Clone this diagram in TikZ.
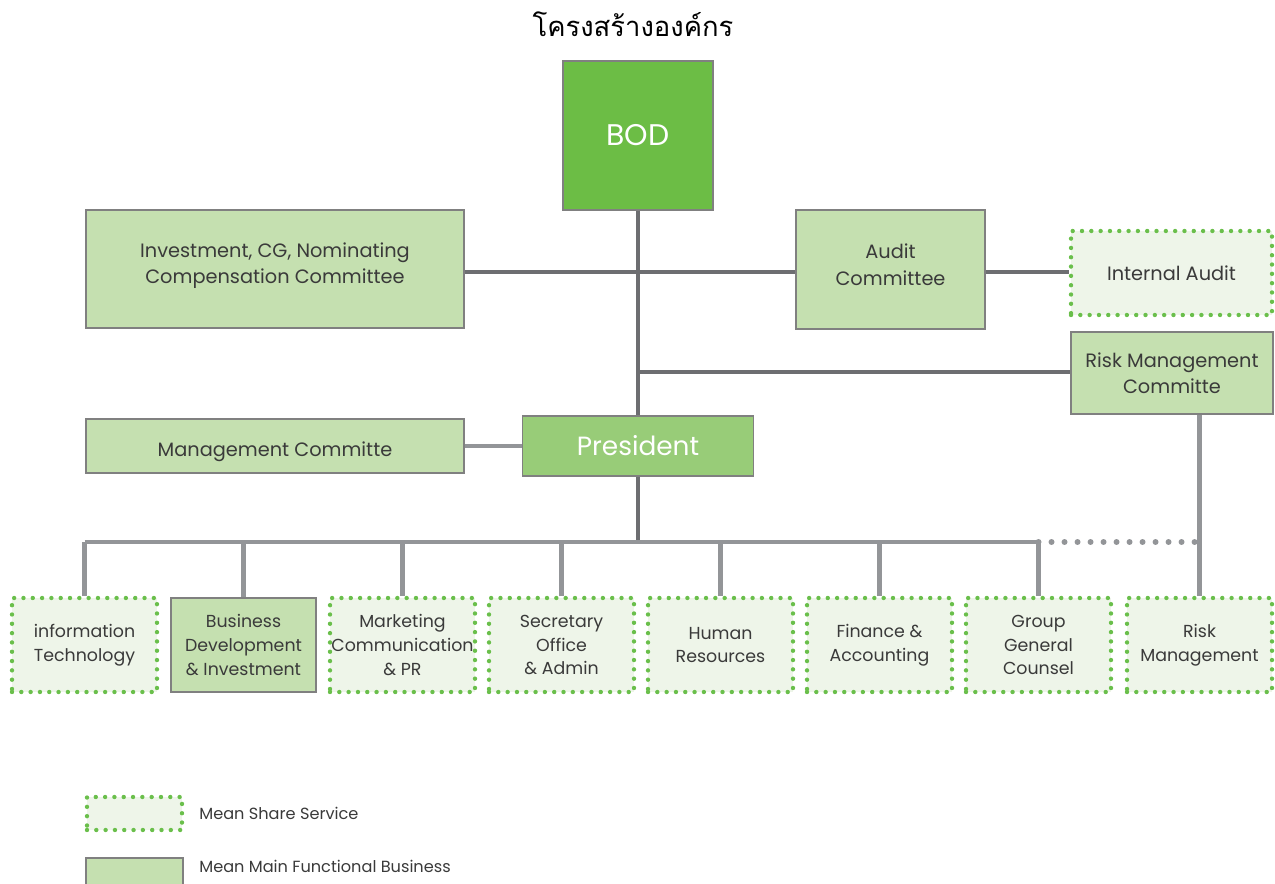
\documentclass[tikz,border=0pt]{standalone}
\usepackage{fontspec}
\setmainfont{Poppins}
\newfontfamily\thaifont[Script=Thai]{Loma}
\usepackage{tikz}
\usetikzlibrary{positioning, calc}
\usepackage{xcolor}

\definecolor{boardgreen}{HTML}{6CBD45}
\definecolor{presgreen}{HTML}{98CC78}
\definecolor{boxgreen}{HTML}{C5E0B0}
\definecolor{sharefill}{HTML}{EEF5E9}
\definecolor{dotgreen}{HTML}{6ABF4B}
\definecolor{darkline}{HTML}{6D6E71}
\definecolor{lightline}{HTML}{939598}
\definecolor{textgray}{HTML}{3A3A3A}

\tikzset{
  mainbox/.style={draw=gray, line width=0.8pt, fill=boxgreen, text=textgray, align=center, inner sep=0pt},
  sharebox/.style={draw=dotgreen, fill=sharefill, line width=2.5pt, line cap=round, dash pattern=on 0pt off 5.3pt, text=textgray, align=center, inner sep=0pt},
  unitbox/.style={minimum width=2.9cm, minimum height=1.88cm, font=\fontsize{9.9}{13.6}\selectfont},
  trunk/.style={draw=darkline, line width=2.8pt},
  bus/.style={draw=lightline, line width=2.6pt},
  legendtext/.style={anchor=west, inner sep=0pt, text=textgray, font=\fontsize{9.2}{11}\selectfont}
}

\begin{document}
\begin{tikzpicture}
        \useasboundingbox (0,0) rectangle (25.5,-17.68);

        % title
        \node[text=black, font=\fontsize{15.6}{18}\selectfont\thaifont] (title) at (12.66,-0.48) {โครงสร้างองค์กร};

        % board and committees
        \node[mainbox, fill=boardgreen, text=white, minimum width=3cm, minimum height=2.98cm, font=\fontsize{17}{20}\selectfont] (bod) at (12.76,-2.71) {BOD};
        \node[mainbox, minimum width=7.56cm, minimum height=2.36cm, text depth=0.24cm, font=\fontsize{11}{14.7}\selectfont] (inv) at (5.50,-5.38) {Investment, CG, Nominating\\Compensation Committee};
        \node[mainbox, minimum width=3.78cm, minimum height=2.38cm, text depth=0.2cm, font=\fontsize{11}{15}\selectfont] (audit) at (17.81,-5.39) {Audit\\Committee};
        \node[sharebox, minimum width=4.02cm, minimum height=1.68cm, font=\fontsize{11}{15}\selectfont] (ia) at (23.43,-5.46) {Internal Audit};
        \node[mainbox, minimum width=4.04cm, minimum height=1.64cm, font=\fontsize{11}{15}\selectfont] (riskc) at (23.44,-7.46) {Risk Management\\Committe};
        \node[mainbox, minimum width=7.56cm, minimum height=1.08cm, text height=0.5cm, text depth=0.08cm, font=\fontsize{11}{15}\selectfont] (mgmt) at (5.50,-8.92) {Management Committe};
        \node[mainbox, fill=presgreen, text=white, minimum width=4.62cm, minimum height=1.2cm, font=\fontsize{15}{18}\selectfont] (pres) at (12.76,-8.92) {President};

        % units
        \node[sharebox, unitbox] (it) at (1.69,-12.9) {information\\Technology};
        \node[mainbox, unitbox] (bd) at (4.87,-12.9) {Business\\Development\\\& Investment};
        \node[sharebox, unitbox] (mkt) at (8.05,-12.9) {Marketing\\Communication\\\& PR};
        \node[sharebox, unitbox] (sec) at (11.23,-12.9) {Secretary\\Office\\\& Admin};
        \node[sharebox, unitbox] (hr) at (14.41,-12.9) {Human\\Resources};
        \node[sharebox, unitbox] (fin) at (17.59,-12.9) {Finance \&\\Accounting};
        \node[sharebox, unitbox] (grp) at (20.77,-12.9) {Group\\General\\Counsel};
        \node[sharebox, unitbox] (rm) at (23.99,-12.9) {Risk\\Management};

        \coordinate (bus) at (0,-10.84);
        \coordinate (cline) at (0,-5.44);
        \coordinate (rline) at (0,-7.44);

        % connectors
        \draw[trunk] (bod.south) -- (pres.north);
        \draw[trunk] (pres.south) -- (pres.south |- bus);
        \draw[trunk, line width=2.2pt] (inv.east |- cline) -- (audit.west |- cline);
        \draw[trunk, line width=2.2pt] (audit.east |- cline) -- (ia.west |- cline);
        \draw[trunk, line width=2.2pt] (bod.south |- rline) -- (riskc.west |- rline);
        \draw[bus] (mgmt.east) -- (pres.west);
        \draw[bus] (it.north |- bus) -- (grp.north |- bus);
        \foreach \u in {it, bd, mkt, sec, hr, fin, grp}
          \draw[bus] (\u.north) -- (\u.north |- bus);
        \draw[bus] (riskc.south -| rm.north) -- (rm.north);
        \draw[draw=lightline, line width=3.4pt, line cap=round, dash pattern=on 0pt off 7.4pt] (grp.north |- bus) -- (rm.north |- bus);

        % legend
        \node[sharebox, minimum width=1.9cm, minimum height=0.66cm] (lshare) at (2.69,-16.27) {};
        \node[legendtext] (lsharetxt) at (3.98,-16.27) {Mean Share Service};
        \node[mainbox, minimum width=1.94cm, minimum height=0.66cm] (lmain) at (2.69,-17.49) {};
        \node[legendtext] (lmaintxt) at (3.98,-17.32) {Mean Main Functional Business};

      \end{tikzpicture}
\end{document}
